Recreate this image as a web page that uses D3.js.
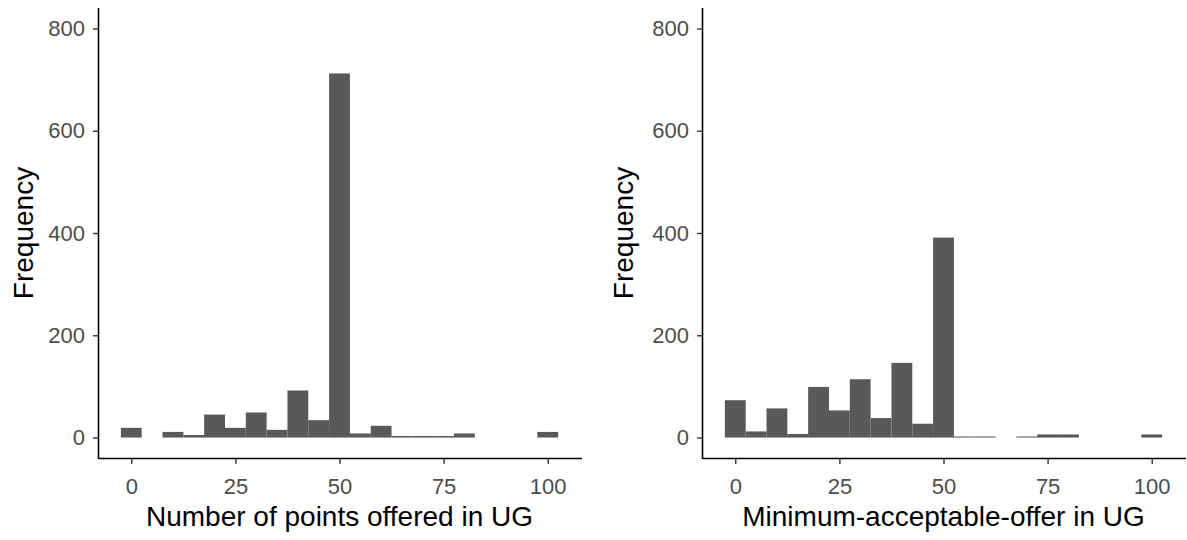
<!DOCTYPE html>
<html>
<head>
<meta charset="utf-8">
<script src="https://cdn.jsdelivr.net/npm/d3@7"></script>
<style>
  html, body { margin: 0; padding: 0; background: #fff; }
  svg { display: block; }
  text { font-family: "Liberation Sans", Arial, sans-serif; }
</style>
</head>
<body>
<svg id="chart" width="1187" height="540"></svg>
<script>
// Histogram bins (width 5, centred on multiples of 5)
const binCenters = [0, 5, 10, 15, 20, 25, 30, 35, 40, 45, 50, 55, 60, 65, 70, 75, 80, 85, 90, 95, 100];
const offeredCounts = [19, 0, 11, 5, 45, 19, 49, 15, 92, 34, 712, 8, 23, 3, 3, 3, 8, 0, 0, 0, 11];
const maoCounts = [73, 12, 57, 7, 99, 53, 114, 38, 146, 27, 391, 2, 2, 0, 2, 6, 6, 0, 0, 0, 6];
const xTicks = [0, 25, 50, 75, 100];
const yTicks = [0, 200, 400, 600, 800];
const binWidth = 5;

const panels = [
  { counts: offeredCounts, xTitle: "Number of points offered in UG", left: 99, right: 580, yTitleX: 33 },
  { counts: maoCounts, xTitle: "Minimum-acceptable-offer in UG", left: 703, right: 1184, yTitleX: 633 }
];

const svg = d3.select("#chart");
const plotTop = 8, plotBottom = 458;

panels.forEach(p => {
  const x = d3.scaleLinear().domain([-7.75, 107.75]).range([p.left, p.right]);
  const y = d3.scaleLinear().domain([-40, 840]).range([plotBottom, plotTop]);
  const g = svg.append("g");

  // bars
  g.selectAll("rect.bar")
    .data(binCenters.map((c, i) => ({ c, n: p.counts[i] })).filter(d => d.n > 0))
    .join("rect")
    .attr("class", "bar")
    .attr("x", d => x(d.c - binWidth / 2))
    .attr("width", d => x(d.c + binWidth / 2) - x(d.c - binWidth / 2))
    .attr("y", d => y(d.n))
    .attr("height", d => y(0) - y(d.n))
    .attr("fill", "#595959");

  // x axis
  const xa = g.append("g")
    .attr("transform", `translate(0,${plotBottom})`)
    .call(d3.axisBottom(x).tickValues(xTicks).tickSize(6).tickPadding(14).tickSizeOuter(0));
  xa.select(".domain").attr("stroke", "#000").attr("stroke-width", 1.6)
    .attr("d", `M${p.left},0.5H${p.right + 2}`);
  xa.selectAll(".tick line").attr("stroke", "#333").attr("stroke-width", 1.4);
  xa.selectAll(".tick text").attr("fill", "#4d4d4d").style("font-size", "22px");

  // y axis
  const ya = g.append("g")
    .attr("transform", `translate(${p.left},0)`)
    .call(d3.axisLeft(y).tickValues(yTicks).tickSize(6).tickPadding(8).tickSizeOuter(0));
  ya.select(".domain").attr("stroke", "#000").attr("stroke-width", 1.6)
    .attr("d", `M-0.5,${plotTop}V${plotBottom + 1}`);
  ya.selectAll(".tick line").attr("stroke", "#333").attr("stroke-width", 1.4);
  ya.selectAll(".tick text").attr("fill", "#4d4d4d").style("font-size", "22px");

  // titles
  g.append("text")
    .attr("x", (x(-7.75) + x(107.75)) / 2)
    .attr("y", 526)
    .attr("text-anchor", "middle")
    .style("font-size", "28px")
    .attr("fill", "#000")
    .text(p.xTitle);

  g.append("text")
    .attr("transform", `translate(${p.yTitleX},${(plotTop + plotBottom) / 2}) rotate(-90)`)
    .attr("text-anchor", "middle")
    .style("font-size", "28px")
    .attr("fill", "#000")
    .text("Frequency");
});
</script>
</body>
</html>
